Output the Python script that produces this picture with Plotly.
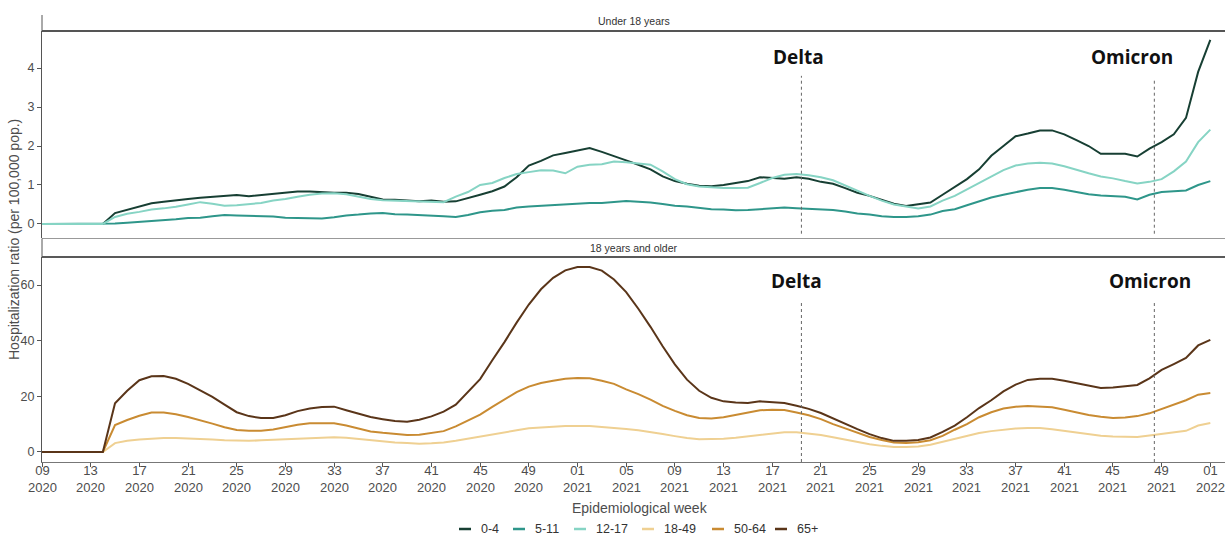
import plotly.graph_objects as go

# ---------------- data ----------------
# week index: 0 = epi week 09/2020 ... 96 = epi week 01/2022
n_weeks = 97
week_index = list(range(n_weeks))

tick_labels = ["09<br>2020", "13<br>2020", "17<br>2020", "21<br>2020", "25<br>2020", "29<br>2020",
               "33<br>2020", "37<br>2020", "41<br>2020", "45<br>2020", "49<br>2020",
               "01<br>2021", "05<br>2021", "09<br>2021", "13<br>2021", "17<br>2021", "21<br>2021",
               "25<br>2021", "29<br>2021", "33<br>2021", "37<br>2021", "41<br>2021", "45<br>2021",
               "49<br>2021", "01<br>2022"]
tick_weeks = [0, 4, 8, 12, 16, 20, 24, 28, 32, 36, 40, 44, 48, 52, 56, 60, 64, 68, 72, 76, 80, 84, 88, 92, 96]

age_0_4 = [0, 0, 0, 0, 0, 0, 0.28, 0.36, 0.45, 0.53, 0.57, 0.61, 0.64, 0.67, 0.69, 0.72, 0.74, 0.71, 0.74, 0.77,
           0.80, 0.83, 0.83, 0.81, 0.80, 0.80, 0.77, 0.70, 0.63, 0.62, 0.60, 0.58, 0.60, 0.57, 0.58, 0.66, 0.75,
           0.84, 0.96, 1.20, 1.50, 1.62, 1.76, 1.82, 1.88, 1.95, 1.85, 1.73, 1.63, 1.52, 1.40, 1.22, 1.10, 1.03,
           0.98, 0.97, 1.00, 1.05, 1.10, 1.20, 1.18, 1.16, 1.20, 1.16, 1.08, 1.03, 0.92, 0.80, 0.72, 0.62, 0.52,
           0.46, 0.50, 0.55, 0.75, 0.95, 1.15, 1.40, 1.75, 2.00, 2.25, 2.32, 2.40, 2.40, 2.30, 2.15, 2.00, 1.80,
           1.80, 1.80, 1.73, 1.93, 2.10, 2.30, 2.72, 3.90, 4.72]
age_5_11 = [0, 0, 0, 0, 0, 0, 0.01, 0.03, 0.05, 0.08, 0.10, 0.12, 0.15, 0.16, 0.20, 0.23, 0.22, 0.21, 0.20, 0.19,
            0.16, 0.15, 0.14, 0.14, 0.17, 0.22, 0.24, 0.27, 0.28, 0.25, 0.24, 0.23, 0.22, 0.20, 0.18, 0.23, 0.30,
            0.34, 0.36, 0.42, 0.45, 0.47, 0.49, 0.51, 0.53, 0.54, 0.54, 0.56, 0.59, 0.57, 0.55, 0.51, 0.47, 0.45,
            0.41, 0.38, 0.37, 0.35, 0.36, 0.38, 0.41, 0.42, 0.40, 0.39, 0.38, 0.36, 0.32, 0.27, 0.24, 0.20, 0.18,
            0.18, 0.20, 0.24, 0.33, 0.38, 0.48, 0.58, 0.68, 0.75, 0.82, 0.88, 0.92, 0.92, 0.88, 0.82, 0.76, 0.73,
            0.71, 0.70, 0.63, 0.75, 0.82, 0.84, 0.86, 1.00, 1.10]
age_12_17 = [0, 0, 0, 0, 0, 0, 0.18, 0.26, 0.31, 0.37, 0.40, 0.44, 0.50, 0.56, 0.52, 0.47, 0.48, 0.51, 0.54, 0.60,
             0.64, 0.70, 0.75, 0.78, 0.79, 0.76, 0.70, 0.64, 0.61, 0.60, 0.59, 0.57, 0.56, 0.56, 0.70, 0.82, 1.00,
             1.05, 1.18, 1.28, 1.33, 1.38, 1.37, 1.30, 1.47, 1.52, 1.53, 1.60, 1.58, 1.55, 1.52, 1.35, 1.15, 1.02,
             0.96, 0.94, 0.92, 0.92, 0.93, 1.05, 1.18, 1.26, 1.28, 1.25, 1.20, 1.12, 0.98, 0.85, 0.72, 0.60, 0.50,
             0.45, 0.40, 0.45, 0.60, 0.72, 0.88, 1.05, 1.22, 1.38, 1.50, 1.55, 1.57, 1.55, 1.48, 1.38, 1.30, 1.22,
             1.17, 1.10, 1.04, 1.08, 1.15, 1.35, 1.60, 2.10, 2.42]
age_18_49 = [0, 0, 0, 0, 0, 0, 3.2, 4.0, 4.5, 4.8, 5.0, 5.0, 4.9, 4.8, 4.5, 4.2, 4.0, 4.0, 4.2, 4.4,
             4.6, 4.8, 5.1, 5.3, 5.3, 5.1, 4.7, 4.2, 3.7, 3.4, 3.2, 3.0, 3.1, 3.4, 4.0, 4.8, 5.5,
             6.2, 7.0, 7.8, 8.5, 8.9, 9.1, 9.3, 9.4, 9.3, 9.0, 8.7, 8.3, 7.8, 7.2, 6.5, 5.7, 5.0,
             4.6, 4.6, 4.8, 5.1, 5.6, 6.3, 6.8, 7.1, 7.1, 6.7, 6.1, 5.3, 4.4, 3.6, 2.8, 2.2, 1.8,
             1.8, 2.0, 2.6, 3.6, 4.8, 5.8, 6.8, 7.5, 8.0, 8.4, 8.6, 8.6, 8.2, 7.6, 6.9, 6.3, 5.8,
             5.6, 5.5, 5.4, 5.9, 6.4, 7.0, 7.6, 9.5, 10.4]
age_50_64 = [0, 0, 0, 0, 0, 0, 9.7, 11.5, 13.0, 14.2, 14.2, 13.6, 12.6, 11.5, 10.2, 8.9, 7.9, 7.6, 7.6, 8.1,
             9.0, 9.8, 10.3, 10.4, 10.3, 9.5, 8.4, 7.4, 6.9, 6.4, 6.1, 6.2, 6.8, 7.5, 9.2, 11.2, 13.4,
             16.2, 19.0, 21.5, 23.5, 24.8, 25.6, 26.3, 26.6, 26.5, 25.6, 24.5, 22.5, 20.8, 18.8, 16.6, 14.8, 13.2,
             12.2, 12.0, 12.5, 13.3, 14.2, 15.0, 15.2, 15.1, 14.2, 13.2, 11.8, 10.0, 8.5, 7.0, 5.4, 4.3, 3.4,
             3.2, 3.5, 4.2, 5.8, 8.0, 10.0, 12.5, 14.3, 15.6, 16.3, 16.5, 16.3, 16.1, 15.2, 14.2, 13.3, 12.7,
             12.2, 12.4, 12.9, 13.9, 15.5, 17.0, 18.6, 20.6, 21.2]
age_65_plus = [0, 0, 0, 0, 0, 0, 17.5, 22.0, 25.8, 27.2, 27.3, 26.3, 24.5, 22.3, 19.8, 17.0, 14.3, 12.9, 12.2, 12.2,
               13.2, 14.7, 15.6, 16.2, 16.3, 15.0, 13.8, 12.6, 11.8, 11.1, 10.9, 11.6, 12.8, 14.5, 17.0, 21.5, 26.2,
               33.0, 39.5, 46.5, 53.0, 58.5, 62.6, 65.3, 66.5, 66.5, 65.2, 62.0, 57.5, 51.5, 45.0, 38.0, 31.5, 26.0,
               22.0, 19.5, 18.2, 17.8, 17.6, 18.2, 18.0, 17.6, 16.6, 15.5, 14.0, 12.0, 10.0, 8.2, 6.4, 5.0, 4.0,
               4.0, 4.3, 5.2, 7.2, 9.5, 12.5, 15.8, 18.6, 21.8, 24.2, 25.9, 26.3, 26.3, 25.6, 24.7, 23.8, 23.0,
               23.2, 23.6, 24.1, 26.5, 29.5, 31.6, 33.8, 38.3, 40.3]

series_names = ["0-4", "5-11", "12-17", "18-49", "50-64", "65+"]
series_colors = ["#173f33", "#2e968a", "#86d4c4", "#efd092", "#c98b32", "#5a3519"]

delta_week = 62.4
omicron_week = 91.4

# ---------------- figure ----------------
W, H = 1225, 536
ML, MR, MT, MB = 42, 0, 15, 74
plot_h = H - MT - MB


def fy(py):
    """pixel y (from top) -> paper fraction"""
    return (H - MB - py) / plot_h


def fx(px):
    return (px - ML) / (W - ML - MR)


fig = go.Figure()

top_series = [age_0_4, age_5_11, age_12_17]
bot_series = [age_18_49, age_50_64, age_65_plus]
for k, ys in enumerate(top_series):
    fig.add_trace(go.Scatter(x=week_index, y=ys, mode="lines", name=series_names[k],
                             line=dict(color=series_colors[k], width=2), xaxis="x", yaxis="y",
                             showlegend=False))
for k, ys in enumerate(bot_series):
    fig.add_trace(go.Scatter(x=week_index, y=ys, mode="lines", name=series_names[k + 3],
                             line=dict(color=series_colors[k + 3], width=2), xaxis="x2", yaxis="y2",
                             showlegend=False))

font_family = "Liberation Sans, Arial, sans-serif"
tick_col = "#4d4d4d"
xr = [0, (W - ML - MR) / 12.17]

fig.update_layout(
    width=W, height=H,
    margin=dict(l=ML, r=MR, t=MT, b=MB),
    paper_bgcolor="white", plot_bgcolor="white",
    font=dict(family=font_family, color=tick_col),
    xaxis=dict(domain=[0, 1], anchor="y", range=xr, showticklabels=False, ticks="",
               showgrid=False, zeroline=False, showline=False),
    yaxis=dict(domain=[fy(238), fy(31)], anchor="x", range=[-0.36, 4.95],
               tickvals=[0, 1, 2, 3, 4], ticks="outside", ticklen=4, tickcolor="#555",
               tickfont=dict(size=12.5, color=tick_col), showgrid=False, zeroline=False,
               showline=True, linecolor="#555", linewidth=1),
    xaxis2=dict(domain=[0, 1], anchor="y2", range=xr, tickvals=tick_weeks, showticklabels=False,
                ticks="outside", ticklen=4, tickcolor="#555",
                showgrid=False, zeroline=False, showline=True, linecolor="#777", linewidth=1),
    yaxis2=dict(domain=[0, fy(257)], anchor="x2", range=[-3.6, 70.1],
                tickvals=[0, 20, 40, 60], ticks="outside", ticklen=4, tickcolor="#555",
                tickfont=dict(size=12.5, color=tick_col), showgrid=False, zeroline=False,
                showline=True, linecolor="#555", linewidth=1),
)

shapes = []
# strip borders
shapes.append(dict(type="line", xref="paper", yref="paper", x0=0, x1=1, y0=fy(31), y1=fy(31),
                   line=dict(color="#555", width=2)))
shapes.append(dict(type="line", xref="paper", yref="paper", x0=0, x1=1, y0=fy(238.5), y1=fy(238.5),
                   line=dict(color="#999", width=1.2)))
shapes.append(dict(type="line", xref="paper", yref="paper", x0=0, x1=1, y0=fy(257), y1=fy(257),
                   line=dict(color="#222", width=1.5)))
shapes.append(dict(type="line", xref="paper", yref="paper", x0=0, x1=0, y0=fy(31), y1=fy(15),
                   line=dict(color="#555", width=1)))
shapes.append(dict(type="line", xref="paper", yref="paper", x0=0, x1=0, y0=fy(257), y1=fy(238.5),
                   line=dict(color="#555", width=1)))
# variant lines
for wk, ytop in [(delta_week, 3.8), (omicron_week, 3.69)]:
    shapes.append(dict(type="line", xref="x", yref="y", x0=wk, x1=wk, y0=-0.25, y1=ytop,
                       line=dict(color="#666", width=1, dash="dot")))
    shapes.append(dict(type="line", xref="x2", yref="y2", x0=wk, x1=wk, y0=-3.6, y1=54,
                       line=dict(color="#666", width=1, dash="dot")))

annotations = []
# x tick labels (two lines: week / year)
for wk, lab in zip(tick_weeks, tick_labels):
    annotations.append(dict(text=lab, xref="x2", yref="paper", x=wk, y=fy(479.5),
                            showarrow=False, font=dict(size=13, color=tick_col),
                            xanchor="center", yanchor="middle"))
annotations.append(dict(text="Under 18 years", xref="paper", yref="paper", x=0.5, y=fy(21),
                        showarrow=False, font=dict(size=10.5, color="#333"), xanchor="center", yanchor="middle"))
annotations.append(dict(text="18 years and older", xref="paper", yref="paper", x=0.5, y=fy(248),
                        showarrow=False, font=dict(size=10.5, color="#333"), xanchor="center", yanchor="middle"))
annotations.append(dict(text="Hospitalization ratio (per 100,000 pop.)", xref="paper", yref="paper",
                        x=fx(14), y=fy(240), textangle=-90, showarrow=False,
                        font=dict(size=14, color=tick_col), xanchor="center", yanchor="middle"))
annotations.append(dict(text="Epidemiological week", xref="paper", yref="paper",
                        x=fx(640), y=fy(508), showarrow=False,
                        font=dict(size=14, color=tick_col), xanchor="center", yanchor="middle"))
label_font = dict(family="Open Sans, sans-serif", size=19, color="#111")
annotations.append(dict(text="<b>Delta</b>", xref="paper", yref="paper", x=fx(798), y=fy(57),
                        showarrow=False, font=label_font, xanchor="center", yanchor="middle"))
annotations.append(dict(text="<b>Omicron</b>", xref="paper", yref="paper", x=fx(1132), y=fy(57),
                        showarrow=False, font=label_font, xanchor="center", yanchor="middle"))
annotations.append(dict(text="<b>Delta</b>", xref="paper", yref="paper", x=fx(796), y=fy(281),
                        showarrow=False, font=label_font, xanchor="center", yanchor="middle"))
annotations.append(dict(text="<b>Omicron</b>", xref="paper", yref="paper", x=fx(1150), y=fy(281),
                        showarrow=False, font=label_font, xanchor="center", yanchor="middle"))

# manual legend
leg_sym_x = [465, 519, 580, 648, 718, 781]
leg_y = 529
for k, name in enumerate(series_names):
    cx = leg_sym_x[k]
    shapes.append(dict(type="line", xref="paper", yref="paper", x0=fx(cx - 6), x1=fx(cx + 6),
                       y0=fy(leg_y), y1=fy(leg_y), line=dict(color=series_colors[k], width=2.5)))
    annotations.append(dict(text=name, xref="paper", yref="paper", x=fx(cx + 14), y=fy(leg_y),
                            showarrow=False, font=dict(size=12.5, color="#333"), xanchor="left",
                            yanchor="middle"))

fig.update_layout(shapes=shapes, annotations=annotations)

fig.write_html("out.html", config={"displayModeBar": False},
               post_script="document.body.style.margin='0';")
